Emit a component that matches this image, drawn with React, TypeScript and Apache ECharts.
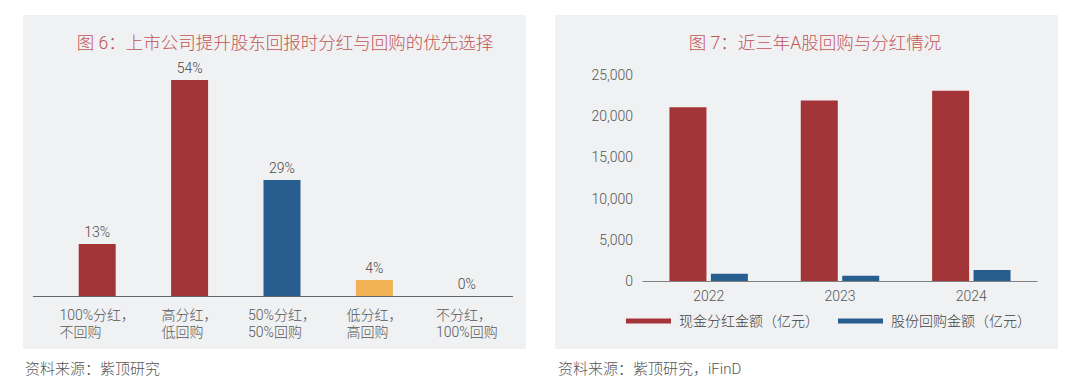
import React, { useEffect, useRef } from "react";
import * as echarts from "echarts";

const leftCategories = ["100%分红，\n不回购", "高分红，\n低回购", "50%分红，\n50%回购", "低分红，\n高回购", "不分红，\n100%回购"];
const leftValues = [13, 54, 29, 4, 0];
const leftColors = ["#a33437", "#a33437", "#285d8f", "#f0b255", "#a33437"];

const years = ["2022", "2023", "2024"];
const dividends = [21100, 21900, 23100];
const buybacks = [880, 630, 1320];
const seriesNames = ["现金分红金额（亿元）", "股份回购金额（亿元）"];

const leftTitle = "图 6：上市公司提升股东回报时分红与回购的优先选择";
const rightTitle = "图 7：近三年A股回购与分红情况";
const leftSource = "资料来源：紫顶研究";
const rightSource = "资料来源：紫顶研究，iFinD";

const FONT = "Roboto, 'Noto Sans CJK SC', sans-serif";
const RED = "#a33437";
const BLUE = "#285d8f";
const PANEL = "#f0f1f3";
const TITLE = "#c05556";
const TEXT = "#555555";

export default function App() {
  const ref = useRef<HTMLDivElement>(null);
  useEffect(() => {
    if (!ref.current) return;
    const chart = echarts.init(ref.current, undefined, { renderer: "svg" });
    chart.setOption({
      animation: false,
      textStyle: { fontFamily: FONT },
      title: [
        {
          text: leftTitle,
          left: 285,
          top: 32,
          textAlign: "center",
          padding: 0,
          textStyle: { fontFamily: FONT, fontSize: 17.5, fontWeight: 300, color: TITLE, lineHeight: 22 },
        },
        {
          text: rightTitle,
          left: 815,
          top: 32,
          textAlign: "center",
          padding: 0,
          textStyle: { fontFamily: FONT, fontSize: 17.5, fontWeight: 300, color: TITLE, lineHeight: 22 },
        },
      ],
      graphic: [
        { type: "rect", z: -10, silent: true, shape: { x: 23, y: 15, width: 503, height: 334 }, style: { fill: PANEL } },
        { type: "rect", z: -10, silent: true, shape: { x: 555, y: 15, width: 503, height: 334 }, style: { fill: PANEL } },
        { type: "line", z: 1, silent: true, shape: { x1: 33, y1: 296.5, x2: 513, y2: 296.5 }, style: { stroke: "#666666", lineWidth: 1 } },
        { type: "text", x: 25, y: 369, style: { text: leftSource, fill: TEXT, font: `300 15px ${FONT}`, verticalAlign: "middle" } },
        { type: "text", x: 558, y: 369, style: { text: rightSource, fill: TEXT, font: `300 15px ${FONT}`, verticalAlign: "middle" } },
      ],
      legend: {
        data: seriesNames,
        left: 626,
        top: 314,
        padding: 0,
        icon: "rect",
        itemWidth: 45,
        itemHeight: 5,
        itemGap: 19,
        textStyle: { fontFamily: FONT, fontSize: 14, fontWeight: 300, color: "#404040", padding: [0, 0, 0, 3] },
      },
      grid: [
        { left: 51, right: 567, top: 80, bottom: 88 },
        { left: 643, right: 43, top: 75, bottom: 103 },
      ],
      xAxis: [
        {
          type: "category",
          gridIndex: 0,
          data: leftCategories,
          axisLine: { show: false },
          axisTick: { show: false },
          axisLabel: {
            margin: 11,
            interval: 0,
            formatter: (v: string) => v.split("\n").map((s) => `{a|${s}}`).join("\n"),
            rich: { a: { align: "left", fontSize: 14, fontWeight: 300, lineHeight: 16.5, color: TEXT, fontFamily: FONT } },
          },
        },
        {
          type: "category",
          gridIndex: 1,
          data: years,
          axisLine: { show: true, lineStyle: { color: "#808080", width: 1 } },
          axisTick: { show: false },
          axisLabel: { margin: 8, fontSize: 14, fontWeight: 300, color: TEXT, fontFamily: FONT },
        },
      ],
      yAxis: [
        { type: "value", gridIndex: 0, min: 0, max: 54, show: false, splitLine: { show: false } },
        {
          type: "value",
          gridIndex: 1,
          min: 0,
          max: 25000,
          interval: 5000,
          splitLine: { show: false },
          axisLine: { show: false },
          axisTick: { show: false },
          axisLabel: {
            margin: 10,
            fontSize: 14,
            fontWeight: 300,
            color: TEXT,
            fontFamily: FONT,
            formatter: (v: number) => v.toLocaleString("en-US"),
          },
        },
      ],
      series: [
        {
          type: "bar",
          xAxisIndex: 0,
          yAxisIndex: 0,
          barWidth: 37,
          data: leftValues.map((v, i) => ({ value: v, itemStyle: { color: leftColors[i] } })),
          label: {
            show: true,
            position: "top",
            formatter: "{c}%",
            fontSize: 14,
            fontWeight: 300,
            color: "#4a4a4a",
            fontFamily: FONT,
          },
        },
        {
          name: seriesNames[0],
          type: "bar",
          xAxisIndex: 1,
          yAxisIndex: 1,
          barWidth: 37,
          barGap: "12%",
          itemStyle: { color: RED },
          data: dividends,
        },
        {
          name: seriesNames[1],
          type: "bar",
          xAxisIndex: 1,
          yAxisIndex: 1,
          barWidth: 37,
          barGap: "12%",
          itemStyle: { color: BLUE },
          data: buybacks,
        },
      ],
    });
    return () => chart.dispose();
  }, []);
  return <div ref={ref} style={{ position: "absolute", left: 0, top: 0, width: 1080, height: 384 }} />;
}
